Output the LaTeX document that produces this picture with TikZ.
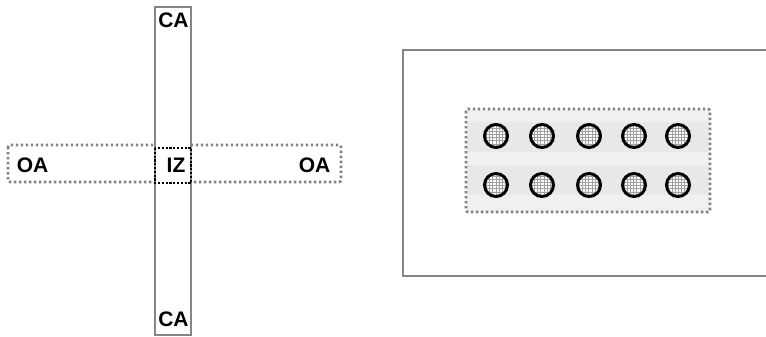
\documentclass[tikz,border=0pt]{standalone}
\usepackage{fontspec}
\setmainfont{Liberation Sans}
\usetikzlibrary{calc}
\definecolor{framegray}{HTML}{858585}
\definecolor{dotgray}{HTML}{808080}
\definecolor{panelfill}{HTML}{F0F0F0}
\definecolor{bandfill}{HTML}{E8E8E8}
\definecolor{gridgray}{HTML}{A0A0A0}
\begin{document}
\begin{tikzpicture}[x=1pt,y=-1pt,
  lbl/.style={font=\fontsize{21}{24}\selectfont\bfseries, inner sep=0pt, text=black},
  solidframe/.style={draw=framegray, line width=2pt},
  dotframe/.style={draw=dotgray, line width=2.6pt, dash pattern=on 2.4pt off 2.6pt, rounded corners=2pt},
  izframe/.style={draw=black, line width=2.6pt, dash pattern=on 2.2pt off 1.6pt},
  well/.style={draw=black, line width=3pt}]
\useasboundingbox (0,0) rectangle (766,337);
\fill[white] (0,0) rectangle (766,337);
% left: cross
\draw[dotframe] (8,145) rectangle (341,182);
\fill[white] (155,7) rectangle (191,335);
\draw[solidframe] (155,7) rectangle (191,335);
\draw[izframe] (155,148) rectangle (191,183);
\node[lbl] (catop) at (173.5,20.5) {CA};
\node[lbl] (cabot) at (173.5,319.5) {CA};
\node[lbl] (oal) at (32.5,165) {OA};
\node[lbl] (oar) at (314.5,165) {OA};
\node[lbl] (iz) at (176,165.5) {IZ};
% right: frame and panel
\draw[solidframe] (403,50) -- (770,50);
\draw[solidframe] (403,276) -- (770,276);
\draw[solidframe] (403,49) -- (403,277);
\fill[panelfill, rounded corners=2pt] (466,109) rectangle (710,212);
\fill[bandfill] (468,122) rectangle (708,152);
\fill[bandfill] (468,165) rectangle (708,195);
\draw[dotframe] (466,109) rectangle (710,212);
\foreach \x [count=\i] in {496,542,589,634,678}{
  \foreach \y [count=\j] in {136,185}{
    \coordinate (w\i\j) at (\x,\y);
    \begin{scope}
      \clip (w\i\j) circle (11.5);
      \fill[white] (w\i\j) circle (11.5);
      \draw[gridgray, line width=0.7pt, step=3.2pt] ($(w\i\j)+(-13,-13)$) grid ($(w\i\j)+(13,13)$);
    \end{scope}
    \draw[well] (w\i\j) circle (11.5);
  }
}
\end{tikzpicture}
\end{document}
